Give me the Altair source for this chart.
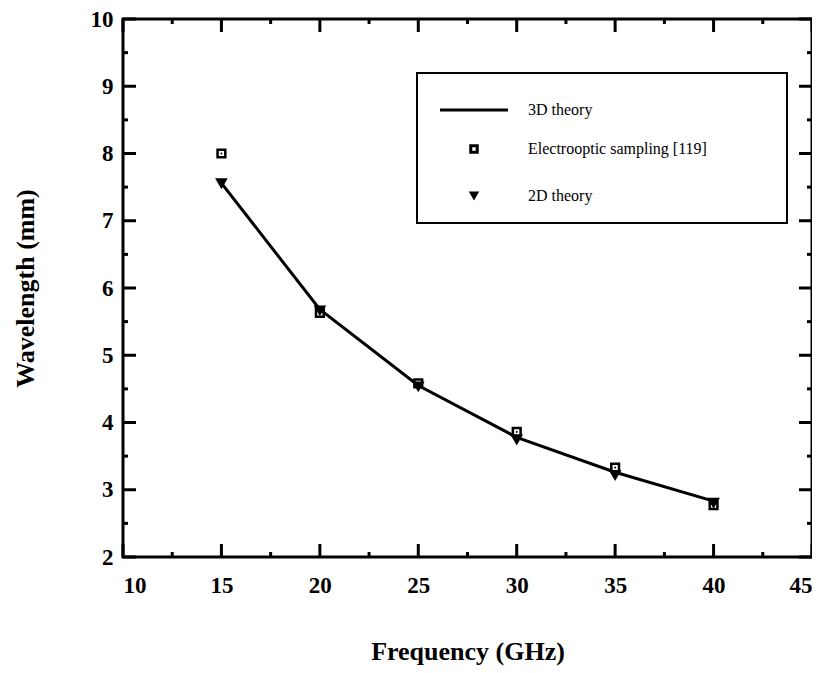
import altair as alt
import pandas as pd

# ---- data ----
freq = [15, 20, 25, 30, 35, 40]
theory_3d = [7.56, 5.68, 4.55, 3.78, 3.26, 2.83]
eo_sampling = [8.00, 5.63, 4.58, 3.86, 3.33, 2.77]
theory_2d = [7.55, 5.66, 4.53, 3.74, 3.21, 2.80]

x_major = [10, 15, 20, 25, 30, 35, 40, 45]
x_minor = [12.5, 17.5, 22.5, 27.5, 32.5, 37.5, 42.5]
y_major = [2, 3, 4, 5, 6, 7, 8, 9, 10]
y_minor = [2.5, 3.5, 4.5, 5.5, 6.5, 7.5, 8.5, 9.5]

legend_labels = ["3D theory", "Electrooptic sampling [119]", "2D theory"]

W, H = 689, 538
FONT = "Liberation Serif, Times New Roman, serif"

df = pd.DataFrame({"freq": freq, "t3": theory_3d, "eo": eo_sampling, "t2": theory_2d})

xscale = alt.Scale(domain=[10, 45], nice=False, zero=False)
yscale = alt.Scale(domain=[2, 10], nice=False, zero=False)

x_axis = alt.Axis(values=x_major, ticks=False, domain=False, grid=False,
                  labelFont=FONT, labelFontSize=23, labelFontWeight="bold",
                  labelPadding=17, labelColor="black",
                  titleFont=FONT, titleFontSize=26, titleFontWeight="bold",
                  titlePadding=41, titleColor="black")
y_axis = alt.Axis(values=y_major, ticks=False, domain=False, grid=False,
                  labelFont=FONT, labelFontSize=23, labelFontWeight="bold",
                  labelPadding=10, labelColor="black",
                  titleFont=FONT, titleFontSize=26, titleFontWeight="bold",
                  titlePadding=52, titleColor="black")

XT = "Frequency (GHz)"
YT = "Wavelength (mm)"


def X(field):
    return alt.X(field, type="quantitative", scale=xscale, axis=x_axis, title=XT)


def Y(field):
    return alt.Y(field, type="quantitative", scale=yscale, axis=y_axis, title=YT)


base = alt.Chart(df)

line = base.mark_line(color="black", strokeWidth=3).encode(x=X("freq"), y=Y("t3"))
squares = base.mark_point(shape="square", filled=False, color="black",
                          size=60, strokeWidth=2.5, opacity=1).encode(x=X("freq"), y=Y("eo"))
sq_dots = base.mark_point(shape="square", filled=True, color="black",
                          size=3, opacity=1).encode(x=X("freq"), y=Y("eo"))
tris = base.mark_point(shape="triangle-down", filled=True, color="black",
                       size=160, opacity=1).encode(x=X("freq"), y=Y("t2"))

# ---- inward ticks on all four sides ----
ymaj = pd.DataFrame({"v": y_major})
ymin = pd.DataFrame({"v": y_minor})
xmaj = pd.DataFrame({"v": x_major})
xmin = pd.DataFrame({"v": x_minor})


def yticks(d, length):
    left = alt.Chart(d).mark_rule(color="black", strokeWidth=3).encode(
        y=Y("v"), x=alt.value(0), x2=alt.value(length))
    right = alt.Chart(d).mark_rule(color="black", strokeWidth=3).encode(
        y=Y("v"), x=alt.value(W - length), x2=alt.value(W))
    return [left, right]


def xticks(d, length):
    bottom = alt.Chart(d).mark_rule(color="black", strokeWidth=3).encode(
        x=X("v"), y=alt.value(H), y2=alt.value(H - length))
    top = alt.Chart(d).mark_rule(color="black", strokeWidth=3).encode(
        x=X("v"), y=alt.value(0), y2=alt.value(length))
    return [bottom, top]


tick_layers = yticks(ymaj, 13) + yticks(ymin, 5) + xticks(xmaj, 13) + xticks(xmin, 5)

# ---- legend box (drawn inside the plot) ----
lg = pd.DataFrame({"label": legend_labels})
LX0, LX1, LY0, LY1 = 294, 664, 54, 204
rows = [91, 130, 177]
box = alt.Chart(lg.head(1)).mark_rect(fill="white", stroke="black", strokeWidth=2).encode(
    x=alt.value(LX0), x2=alt.value(LX1), y=alt.value(LY0), y2=alt.value(LY1))
lg_line = alt.Chart(lg.head(1)).mark_rule(color="black", strokeWidth=3).encode(
    x=alt.value(317), x2=alt.value(385), y=alt.value(rows[0]))
lg_sq = alt.Chart(lg.head(1)).mark_point(shape="square", filled=False, color="black",
                                        size=42, strokeWidth=3, opacity=1).encode(
    x=alt.value(351), y=alt.value(rows[1]))
lg_tri = alt.Chart(lg.head(1)).mark_point(shape="triangle-down", filled=True, color="black",
                                         size=110, opacity=1).encode(
    x=alt.value(351), y=alt.value(rows[2]))
lg_text = [
    alt.Chart(lg.iloc[[i]]).mark_text(align="left", baseline="middle", font=FONT,
                                      fontSize=16, color="black").encode(
        text="label:N", x=alt.value(405), y=alt.value(rows[i]))
    for i in range(3)
]

chart = alt.layer(
    *tick_layers, line, squares, sq_dots, tris, box, lg_line, lg_sq, lg_tri, *lg_text
).properties(
    width=W, height=H,
    autosize=alt.AutoSizeParams(type="none"),
    padding={"left": 115, "top": 11, "right": 0, "bottom": 115},
    background="white",
).configure_view(stroke="black", strokeWidth=3)

chart.save("out.html", embed_options={"renderer": "svg", "actions": False})
